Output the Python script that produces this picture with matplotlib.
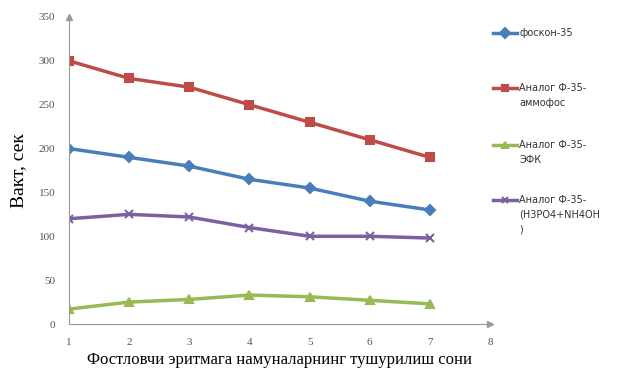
import matplotlib.pyplot as plt
from matplotlib.lines import Line2D

# данные
x = [1, 2, 3, 4, 5, 6, 7]
foskon = [200, 190, 180, 165, 155, 140, 130]
ammofos = [300, 280, 270, 250, 230, 210, 190]
efk = [17, 25, 28, 33, 31, 27, 23]
h3po4 = [120, 125, 122, 110, 100, 100, 98]

names = ["фоскон-35", "Аналог Ф-35-\nаммофос", "Аналог Ф-35-\nЭФК", "Аналог Ф-35-\n(Н3РО4+NH4OH\n)"]
colors = ["#4A7EBB", "#BE4B48", "#98B954", "#7D60A0"]
markers = ["D", "s", "^", "x"]
yticks = [0, 50, 100, 150, 200, 250, 300, 350]
xticks = [1, 2, 3, 4, 5, 6, 7, 8]

fig = plt.figure(figsize=(6.19, 3.81), dpi=100)
ax = fig.add_axes([69 / 619, 57 / 381, 421 / 619, 307 / 381])

series = [foskon, ammofos, efk, h3po4]
for s, c, m in zip(series, colors, markers):
    ax.plot(x, s, color=c, lw=2.5, marker=m, ms=5.5, mew=1.5)

ax.set_xlim(1, 8)
ax.set_ylim(0, 350)
ax.set_xticks(xticks)
ax.set_yticks(yticks)
ax.tick_params(length=0, labelsize=8, colors="#555555", pad=10)
for lab in ax.get_xticklabels() + ax.get_yticklabels():
    lab.set_family("Liberation Serif")
ax.spines["top"].set_visible(False)
ax.spines["right"].set_visible(False)
ax.spines["left"].set_color("#999999")
ax.spines["bottom"].set_color("#999999")
# стрелки на концах осей
ax.plot(0, 1, "^", color="#999999", ms=4, transform=ax.transAxes, clip_on=False)
ax.plot(1, 0, ">", color="#999999", ms=4, transform=ax.transAxes, clip_on=False)

ax.set_ylabel("Вакт, сек", family="Liberation Serif", fontsize=14, labelpad=8)
ax.set_xlabel("Фостловчи эритмага намуналарнинг тушурилиш сони",
              family="Liberation Serif", fontsize=12, labelpad=4)

# легенда справа
leg_y = [33, 88, 145, 200]
for name, c, m, yy in zip(names, colors, markers, leg_y):
    fy = 1 - yy / 381
    fig.add_artist(Line2D([493 / 619, 517 / 619], [fy, fy], color=c, lw=2.5,
                          transform=fig.transFigure))
    fig.add_artist(Line2D([505 / 619], [fy], color=c, marker=m, ms=5, mew=1.5,
                          transform=fig.transFigure))
    fig.text(519 / 619, fy + 5 / 381, name, fontsize=7, va="top", ha="left",
             color="#333333", linespacing=1.6)

fig.savefig("out.png", dpi=100)
